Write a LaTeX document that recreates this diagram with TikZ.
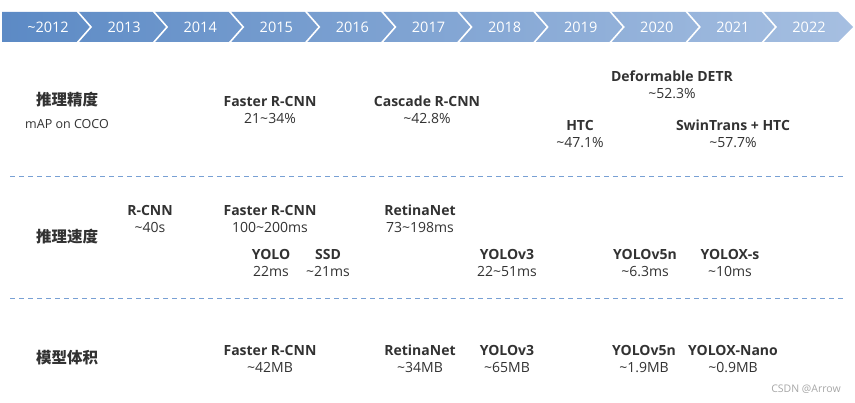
\documentclass[tikz,border=0pt]{standalone}
\usepackage{fontspec}
\setmainfont{Open Sans}
\newfontfamily\cjk{Noto Sans CJK SC}
\usetikzlibrary{positioning}
\definecolor{barDark}{RGB}{92, 138, 197}
\definecolor{barLight}{RGB}{166, 191, 225}
\definecolor{sepBlue}{RGB}{120, 160, 212}
\definecolor{textGray}{RGB}{50, 50, 50}

\begin{document}
\begin{tikzpicture}[
  x=1pt, y=-1pt,
  year/.style={text=white, font=\fontsize{14.5}{16}\selectfont},
  metric/.style={
    text=textGray,
    font=\cjk\bfseries\fontsize{15.5}{17}\selectfont,
    align=center
  },
  model/.style={
    text=textGray,
    font=\fontsize{14}{17}\selectfont,
    align=center,
    inner sep=0pt
  },
  sepline/.style={sepBlue, thick, dash pattern=on 5pt off 4pt}
]
  \useasboundingbox (0,0) rectangle (855,403);

  % timeline bar
  \path[left color=barDark, right color=barLight]
    (2,12) -- (838,12) -- (853,27) -- (838,42) -- (2,42) -- cycle;
  \foreach \k in {0,...,9}
    \draw[white, line width=1.6pt]
      ({77+76.1*\k},11) -- ({91+76.1*\k},27) -- ({77+76.1*\k},43);
  \node[year] (year0) at (48,27) {\textasciitilde2012};
  \foreach \yr [count=\k] in {2013,...,2022}
    \node[year] (year\k) at ({48+76.1*\k},27) {\yr};

  % row separators
  \draw[sepline] (10,176) -- (846,176);
  \draw[sepline] (10,298) -- (846,298);

  % accuracy
  \node[metric] (accuracy) at (67,100) {推理精度};
  \node[model, font=\fontsize{12.5}{14}\selectfont] (accunit) at (67,124)
    {mAP on COCO};
  \node[model] (acc-frcnn) at (270,110)
    {\textbf{Faster R-CNN}\\21\textasciitilde34\%};
  \node[model] (acc-cascade) at (427,110)
    {\textbf{Cascade R-CNN}\\\textasciitilde42.8\%};
  \node[model] (acc-detr) at (672,85)
    {\textbf{Deformable DETR}\\\textasciitilde52.3\%};
  \node[model] (acc-htc) at (580,134)
    {\textbf{HTC}\\\textasciitilde47.1\%};
  \node[model] (acc-swin) at (733,134)
    {\textbf{SwinTrans + HTC}\\\textasciitilde57.7\%};

  % speed
  \node[metric] (speed) at (67,237) {推理速度};
  \node[model] (spd-rcnn) at (150,219)
    {\textbf{R-CNN}\\\textasciitilde40s};
  \node[model] (spd-frcnn) at (270,219)
    {\textbf{Faster R-CNN}\\100\textasciitilde200ms};
  \node[model] (spd-retina) at (420,219)
    {\textbf{RetinaNet}\\73\textasciitilde198ms};
  \node[model] (spd-yolo) at (271,263)
    {\textbf{YOLO}\\22ms};
  \node[model] (spd-ssd) at (328,263)
    {\textbf{SSD}\\\textasciitilde21ms};
  \node[model] (spd-yolov3) at (507,263)
    {\textbf{YOLOv3}\\22\textasciitilde51ms};
  \node[model] (spd-yolov5) at (645,263)
    {\textbf{YOLOv5n}\\\textasciitilde6.3ms};
  \node[model] (spd-yolox) at (730,263)
    {\textbf{YOLOX-s}\\\textasciitilde10ms};

  % model size
  \node[metric] (size) at (67,358) {模型体积};
  \node[model] (siz-frcnn) at (270,359)
    {\textbf{Faster R-CNN}\\\textasciitilde42MB};
  \node[model] (siz-retina) at (420,359)
    {\textbf{RetinaNet}\\\textasciitilde34MB};
  \node[model] (siz-yolov3) at (507,359)
    {\textbf{YOLOv3}\\\textasciitilde65MB};
  \node[model] (siz-yolov5) at (644,359)
    {\textbf{YOLOv5n}\\\textasciitilde1.9MB};
  \node[model] (siz-yolox) at (733,359)
    {\textbf{YOLOX-Nano}\\\textasciitilde0.9MB};

  \node[text=gray!70, font=\fontsize{10.5}{12}\selectfont] (mark) at (806,389)
    {CSDN @Arrow};
\end{tikzpicture}
\end{document}
